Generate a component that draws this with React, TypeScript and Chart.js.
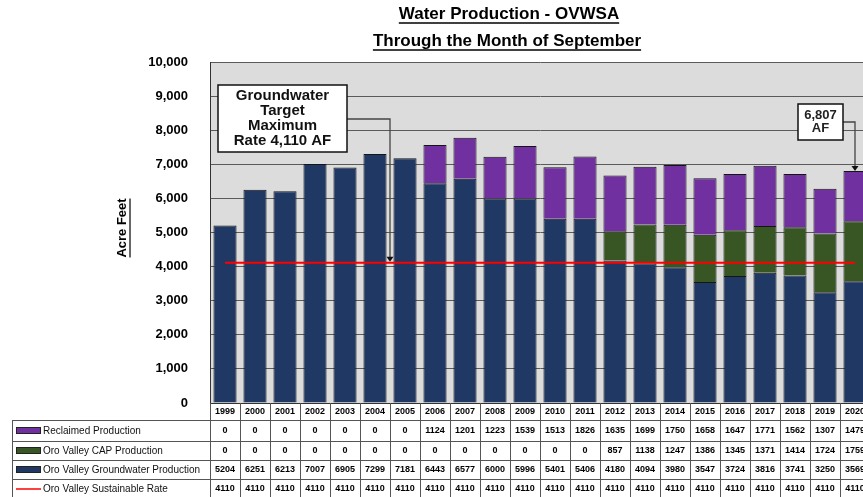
import React, { useEffect, useRef } from 'react';
import { Chart, registerables } from 'chart.js';

Chart.register(...registerables);

const years = ['1999', '2000', '2001', '2002', '2003', '2004', '2005', '2006', '2007', '2008', '2009', '2010', '2011', '2012', '2013', '2014', '2015', '2016', '2017', '2018', '2019', '2020'];
const reclaimed = [0, 0, 0, 0, 0, 0, 0, 1124, 1201, 1223, 1539, 1513, 1826, 1635, 1699, 1750, 1658, 1647, 1771, 1562, 1307, 1479];
const cap = [0, 0, 0, 0, 0, 0, 0, 0, 0, 0, 0, 0, 0, 857, 1138, 1247, 1386, 1345, 1371, 1414, 1724, 1759];
const groundwater = [5204, 6251, 6213, 7007, 6905, 7299, 7181, 6443, 6577, 6000, 5996, 5401, 5406, 4180, 4094, 3980, 3547, 3724, 3816, 3741, 3250, 3569];
const sustainable = [4110, 4110, 4110, 4110, 4110, 4110, 4110, 4110, 4110, 4110, 4110, 4110, 4110, 4110, 4110, 4110, 4110, 4110, 4110, 4110, 4110, 4110];

const seriesNames = ['Reclaimed Production', 'Oro Valley CAP Production', 'Oro Valley Groundwater Production', 'Oro Valley Sustainable Rate'];
const titleLines = ['Water Production - OVWSA', 'Through the Month of September'];
const yTitle = 'Acre Feet';
const note1 = ['Groundwater', 'Target', 'Maximum', 'Rate 4,110 AF'];
const note2 = ['6,807', 'AF'];

const C_NAVY = '#1f3864';
const C_GREEN = '#375623';
const C_PURPLE = '#7030a0';
const C_RED = '#ff0000';
const FONT = '"Liberation Sans", Arial, sans-serif';

function underlined(ctx: CanvasRenderingContext2D, text: string, x: number, y: number, off: number, lw: number) {
  ctx.fillText(text, x, y);
  const w = ctx.measureText(text).width;
  ctx.beginPath();
  ctx.lineWidth = lw;
  ctx.moveTo(x - w / 2, y + off);
  ctx.lineTo(x + w / 2, y + off);
  ctx.stroke();
}

function arrowDown(ctx: CanvasRenderingContext2D, x: number, y: number) {
  ctx.beginPath();
  ctx.moveTo(x - 3.5, y - 5);
  ctx.lineTo(x + 3.5, y - 5);
  ctx.lineTo(x, y);
  ctx.closePath();
  ctx.fill();
}

export default function App() {
  const ref = useRef<HTMLCanvasElement>(null);
  useEffect(() => {
    const canvas = ref.current!;
    const bgPlugin = {
      id: 'bg',
      beforeDraw(chart: any) {
        const { ctx, chartArea: a } = chart;
        ctx.save();
        ctx.fillStyle = '#ffffff';
        ctx.fillRect(0, 0, chart.width, chart.height);
        ctx.fillStyle = '#dcdcdc';
        ctx.fillRect(a.left, a.top, a.right - a.left, a.bottom - a.top);
        ctx.restore();
      },
    };
    const extras = {
      id: 'extras',
      afterDraw(chart: any) {
        const { ctx, chartArea: a } = chart;
        const xs = chart.scales.x;
        const ys = chart.scales.y;
        ctx.save();
        // titles
        ctx.fillStyle = '#000';
        ctx.strokeStyle = '#000';
        ctx.textAlign = 'center';
        ctx.textBaseline = 'middle';
        ctx.font = `bold 17px ${FONT}`;
        underlined(ctx, titleLines[0], 509, 14, 9, 1.5);
        underlined(ctx, titleLines[1], 507, 41, 9, 1.5);
        // y title
        ctx.save();
        ctx.translate(122, 228);
        ctx.rotate(-Math.PI / 2);
        ctx.font = `bold 13px ${FONT}`;
        underlined(ctx, yTitle, 0, 0, 8, 1.2);
        ctx.restore();

        // annotation 1
        const rateY = ys.getPixelForValue(sustainable[5]);
        ctx.strokeStyle = '#444';
        ctx.fillStyle = '#111';
        ctx.lineWidth = 1.3;
        const lx = (xs.getPixelForValue(5) + xs.getPixelForValue(6)) / 2;
        ctx.beginPath();
        ctx.moveTo(347, 119);
        ctx.lineTo(lx, 119);
        ctx.lineTo(lx, rateY - 4);
        ctx.stroke();
        arrowDown(ctx, lx, rateY - 1);
        ctx.fillStyle = '#fff';
        ctx.fillRect(218, 85, 129, 67);
        ctx.strokeStyle = '#111';
        ctx.lineWidth = 1.5;
        ctx.strokeRect(218, 85, 129, 67);
        ctx.fillStyle = '#111';
        ctx.font = `bold 15px ${FONT}`;
        note1.forEach((t, i) => ctx.fillText(t, 282.5, 96 + i * 15));

        // annotation 2
        const last = years.length - 1;
        const topY = ys.getPixelForValue(groundwater[last] + cap[last] + reclaimed[last]);
        const bx = xs.getPixelForValue(last);
        ctx.strokeStyle = '#444';
        ctx.lineWidth = 1.3;
        ctx.beginPath();
        ctx.moveTo(843, 122);
        ctx.lineTo(bx, 122);
        ctx.lineTo(bx, topY - 4);
        ctx.stroke();
        ctx.fillStyle = '#111';
        arrowDown(ctx, bx, topY);
        ctx.fillStyle = '#fff';
        ctx.fillRect(798, 104, 45, 36);
        ctx.strokeStyle = '#111';
        ctx.lineWidth = 1.5;
        ctx.strokeRect(798, 104, 45, 36);
        ctx.fillStyle = '#222';
        ctx.font = `bold 13px ${FONT}`;
        note2.forEach((t, i) => ctx.fillText(t, 820.5, 115 + i * 13));

        // data table
        const step = xs.getPixelForValue(1) - xs.getPixelForValue(0);
        const rowLines = [420, 441, 460, 479];
        const rowText = [431, 451, 470, 489];
        ctx.strokeStyle = '#555';
        ctx.lineWidth = 1;
        rowLines.forEach((y) => {
          ctx.beginPath();
          ctx.moveTo(12, y + 0.5);
          ctx.lineTo(chart.width, y + 0.5);
          ctx.stroke();
        });
        ctx.beginPath();
        ctx.moveTo(12.5, 420);
        ctx.lineTo(12.5, chart.height);
        ctx.stroke();
        for (let k = 0; k <= years.length; k++) {
          const x = Math.round(a.left + k * step) + 0.5;
          ctx.beginPath();
          ctx.moveTo(x, a.bottom);
          ctx.lineTo(x, chart.height);
          ctx.stroke();
        }
        ctx.fillStyle = '#000';
        ctx.textAlign = 'center';
        ctx.font = `bold 9px ${FONT}`;
        const rows = [reclaimed, cap, groundwater, sustainable];
        years.forEach((yr, i) => {
          const cx = xs.getPixelForValue(i);
          ctx.fillText(yr, cx, 412);
          rows.forEach((r, j) => ctx.fillText(String(r[i]), cx, rowText[j]));
        });
        // legend keys
        const swatch = [C_PURPLE, C_GREEN, C_NAVY];
        ctx.textAlign = 'left';
        ctx.font = `10px ${FONT}`;
        seriesNames.forEach((n, j) => {
          const y = rowText[j];
          if (j < 3) {
            ctx.fillStyle = swatch[j];
            ctx.fillRect(16, y - 4, 25, 7);
            ctx.strokeStyle = '#222';
            ctx.strokeRect(16.5, y - 3.5, 24, 6);
          } else {
            ctx.strokeStyle = C_RED;
            ctx.lineWidth = 1.5;
            ctx.beginPath();
            ctx.moveTo(16, y);
            ctx.lineTo(41, y);
            ctx.stroke();
          }
          ctx.fillStyle = '#111';
          ctx.fillText(n, 43, y + 0.5);
        });
        ctx.restore();
      },
    };

    const barCommon = {
      type: 'bar' as const,
      stack: 'prod',
      order: 1,
      barPercentage: 0.77,
      categoryPercentage: 1.0,
      borderColor: '#151515',
      borderWidth: 1,
    };
    const chart = new Chart(canvas, {
      type: 'bar',
      data: {
        labels: years,
        datasets: [
          { ...barCommon, label: seriesNames[2], data: groundwater, backgroundColor: C_NAVY },
          { ...barCommon, label: seriesNames[1], data: cap, backgroundColor: C_GREEN },
          { ...barCommon, label: seriesNames[0], data: reclaimed, backgroundColor: C_PURPLE },
          {
            type: 'line',
            label: seriesNames[3],
            data: sustainable,
            stack: 'rate',
            order: 0,
            borderColor: C_RED,
            borderWidth: 2,
            pointRadius: 0,
            fill: false,
          } as any,
        ],
      },
      options: {
        responsive: false,
        animation: false,
        layout: { padding: { top: 62, right: 10, left: 0, bottom: 0 } },
        plugins: { legend: { display: false }, tooltip: { enabled: false }, title: { display: false } },
        scales: {
          x: {
            stacked: true,
            ticks: { display: false },
            grid: { display: false },
            border: { display: true, color: '#333', width: 1 },
            afterFit: (s: any) => { s.height = 94; },
          },
          y: {
            stacked: true,
            min: 0,
            max: 10000,
            ticks: {
              stepSize: 1000,
              padding: 22,
              color: '#000',
              font: { family: FONT, size: 13, weight: 'bold' },
              callback: (v: any) => Number(v).toLocaleString('en-US'),
            },
            grid: { color: '#5a5a5a', lineWidth: 1, drawTicks: false },
            border: { display: true, color: '#333', width: 1 },
            afterFit: (s: any) => { s.width = 210; },
          },
        },
      },
      plugins: [bgPlugin, extras],
    } as any);
    return () => chart.destroy();
  }, []);

  return (
    <div style={{ position: 'fixed', left: 0, top: 0, width: 863, height: 497, overflow: 'hidden', background: '#fff' }}>
      <canvas ref={ref} width={880} height={497} style={{ display: 'block' }} />
    </div>
  );
}
